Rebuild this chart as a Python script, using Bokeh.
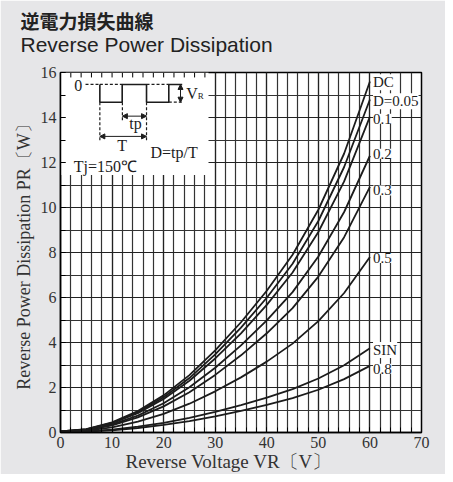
from bokeh.plotting import figure
from bokeh.models import (Range1d, SingleIntervalTicker, Title, LabelSet,
                          ColumnDataSource, Arrow, NormalHead)
from bokeh.core.properties import value
from bokeh.embed import file_html
from bokeh.resources import INLINE

# ---------------- data ----------------
voltage = [0, 5, 10, 15, 20, 25, 30, 35, 40, 45, 50, 55, 60]
p_dc   = [0.05, 0.15, 0.45, 0.95, 1.65, 2.55, 3.65, 4.90, 6.30, 7.90, 9.90, 12.40, 15.60]
p_d005 = [0.05, 0.14, 0.43, 0.90, 1.57, 2.42, 3.47, 4.66, 5.99, 7.50, 9.40, 11.80, 14.80]
p_d01  = [0.05, 0.14, 0.41, 0.86, 1.49, 2.30, 3.29, 4.41, 5.67, 7.11, 8.91, 11.16, 14.04]
p_d02  = [0.04, 0.12, 0.36, 0.75, 1.30, 2.01, 2.88, 3.87, 4.98, 6.24, 7.82, 9.80, 12.30]
p_d03  = [0.04, 0.10, 0.32, 0.67, 1.16, 1.79, 2.56, 3.43, 4.41, 5.53, 6.93, 8.68, 10.92]
p_d05  = [0.03, 0.08, 0.23, 0.48, 0.83, 1.28, 1.83, 2.45, 3.15, 3.95, 4.95, 6.20, 7.80]
p_sin  = [0.02, 0.05, 0.13, 0.26, 0.43, 0.65, 0.92, 1.22, 1.55, 1.93, 2.40, 2.99, 3.74]
p_d08  = [0.02, 0.04, 0.10, 0.20, 0.34, 0.51, 0.72, 0.96, 1.23, 1.53, 1.90, 2.37, 2.96]

curve_names = ["DC", "D=0.05", "0.1", "0.2", "0.3", "0.5", "SIN", "0.8"]
label_y = [15.57, 14.72, 13.94, 12.39, 10.76, 7.76, 3.67, 2.83]
label_x = 60.6

# inward tick positions along the top edge of the inset box
inset_top_ticks = [2, 4, 6, 8, 10, 12, 14, 16, 18, 20, 22, 24, 26, 28]

title_jp = "逆電力損失曲線"
title_en = "Reverse Power Dissipation"
x_title = "Reverse Voltage VR〔V〕"
y_title = "Reverse Power Dissipation PR〔W〕"

SERIF = "Liberation Serif"
INK = "#1c1c1c"

p = figure(width=445, height=474, x_range=Range1d(0, 70), y_range=Range1d(0, 16),
           output_backend="svg", toolbar_location=None,
           min_border_left=60, min_border_right=24, min_border_top=72, min_border_bottom=42)
p.title.visible = False
p.border_fill_color = "#e6e6e8"
p.background_fill_color = "white"
p.outline_line_color = "black"
p.outline_line_width = 1.5

p.xaxis.ticker = SingleIntervalTicker(interval=10, num_minor_ticks=5)
p.yaxis.ticker = SingleIntervalTicker(interval=2, num_minor_ticks=2)
for ax in (p.xaxis, p.yaxis):
    ax.major_tick_in = 5
    ax.major_tick_out = 0
    ax.minor_tick_in = 5
    ax.minor_tick_out = 0
    ax.major_tick_line_color = "black"
    ax.minor_tick_line_color = "black"
    ax.axis_line_color = "black"
    ax.axis_line_width = 1.5
    ax.major_label_text_font = SERIF
    ax.major_label_text_font_size = "16px"
    ax.major_label_text_color = "#333333"
    ax.major_label_standoff = 4
p.yaxis.axis_label = y_title
p.yaxis.axis_label_text_font = SERIF
p.yaxis.axis_label_text_font_size = "18px"
p.yaxis.axis_label_text_font_style = "normal"
p.yaxis.axis_label_text_color = "#333333"
p.yaxis.axis_label_standoff = 4

for g in (p.xgrid, p.ygrid):
    g.grid_line_color = "#222222"
    g.grid_line_width = 1.2
    g.minor_grid_line_color = "#333333"
    g.minor_grid_line_width = 1.2

# inset white box
p.quad(left=[0], right=[28.7], bottom=[11.45], top=[16], fill_color="white", line_color=None)
p.segment(x0=inset_top_ticks, y0=[16] * len(inset_top_ticks),
          x1=inset_top_ticks, y1=[15.78] * len(inset_top_ticks),
          line_color="black", line_width=1)

# curves
for ys in (p_dc, p_d005, p_d01, p_d02, p_d03, p_d05, p_sin, p_d08):
    p.line(voltage, ys, line_color=INK, line_width=1.8)

src = ColumnDataSource(dict(x=[label_x] * len(curve_names), y=label_y, t=curve_names))
p.add_layout(LabelSet(x="x", y="y", text="t", source=src, text_font=value(SERIF),
                      text_font_size="15px", text_baseline="middle", text_align="left",
                      text_color=INK, background_fill_color="white"))

# inset waveform
lw = 1.6
p.line([7.63, 7.63, 11.96, 11.96, 16.68, 16.68, 21.0, 21.0, 23.6],
       [15.47, 14.68, 14.68, 15.47, 15.47, 14.68, 14.68, 15.47, 15.47],
       line_color=INK, line_width=lw)
p.line([4.85, 7.63], [15.47, 15.47], line_color=INK, line_width=1.2, line_dash="3 2")
p.line([7.63, 11.96], [15.47, 15.47], line_color=INK, line_width=1.2, line_dash="3 2")
p.line([16.68, 21.0], [15.47, 15.47], line_color=INK, line_width=1.2, line_dash="3 2")
p.line([21.0, 23.6], [14.68, 14.68], line_color=INK, line_width=1.2, line_dash="3 2")
p.line([7.63, 7.63], [14.68, 12.98], line_color=INK, line_width=1.2, line_dash="3 2")
p.line([12.0, 12.0], [14.68, 13.87], line_color=INK, line_width=1.2, line_dash="3 2")
p.line([16.68, 16.68], [14.68, 12.98], line_color=INK, line_width=1.2, line_dash="3 2")

for (x0, y0, x1, y1) in [(7.63, 13.16, 16.68, 13.16), (12.0, 14.06, 16.68, 14.06),
                         (23.27, 15.47, 23.27, 14.68)]:
    p.add_layout(Arrow(x_start=x0, y_start=y0, x_end=x1, y_end=y1, line_color=INK, line_width=1,
                       start=NormalHead(size=5, fill_color=INK, line_color=INK),
                       end=NormalHead(size=5, fill_color=INK, line_color=INK)))

p.text(x=[3.43], y=[15.42], text=["0"], text_font=value(SERIF), text_font_size="16px",
       text_align="center", text_baseline="middle", text_color=INK)
p.text(x=[14.54], y=[13.72], text=["tp"], text_font=value(SERIF), text_font_size="16px",
       text_align="center", text_baseline="middle", text_color=INK)
p.text(x=[11.96], y=[12.76], text=["T"], text_font=value(SERIF), text_font_size="16px",
       text_align="center", text_baseline="middle", text_color=INK)
p.text(x=[24.4], y=[15.05], text=["V"], text_font=value(SERIF), text_font_size="16px",
       text_align="left", text_baseline="middle", text_color=INK)
p.text(x=[26.6], y=[14.95], text=["R"], text_font=value(SERIF), text_font_size="9px",
       text_align="left", text_baseline="middle", text_color=INK)
p.text(x=[17.45], y=[12.46], text=["D=tp/T"], text_font=value(SERIF), text_font_size="16px",
       text_align="left", text_baseline="middle", text_color=INK)
p.text(x=[2.58], y=[11.82], text=["Tj=150℃"], text_font=value(SERIF), text_font_size="16px",
       text_align="left", text_baseline="middle", text_color=INK)

# x-axis title as a left-offset Title below the axis
p.add_layout(Title(text=x_title, align="left", offset=65, text_font=SERIF,
                   text_font_size="19px", text_font_style="normal", text_color="#333333",
                   vertical_align="top", standoff=0), "below")

# titles (first added sits closest to the plot)
p.add_layout(Title(text=title_en, align="left", offset=-40, text_font="Liberation Sans",
                   text_font_size="21px", text_font_style="normal", text_color="#222222",
                   standoff=33), "above")
p.add_layout(Title(text=title_jp, align="left", offset=-40, text_font="Noto Sans CJK JP",
                   text_font_size="19px", text_font_style="bold", text_color="#222222",
                   standoff=-39), "above")

open("out.html", "w").write(file_html(p, INLINE))
